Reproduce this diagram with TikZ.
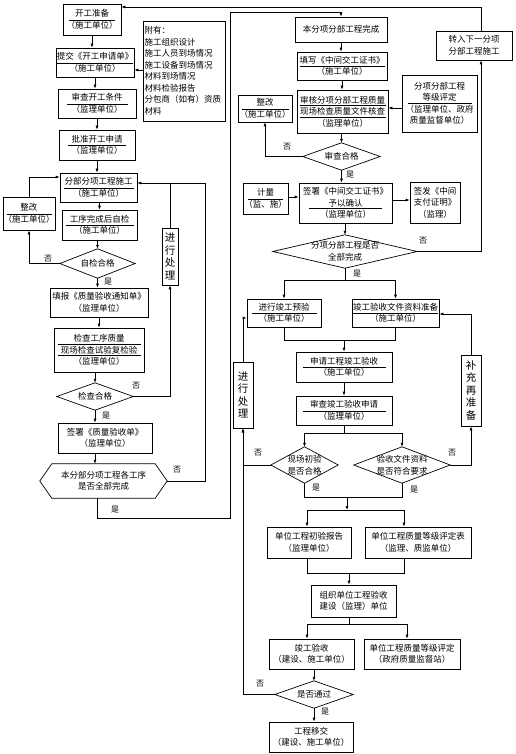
\documentclass[tikz,border=0pt]{standalone}
\usepackage{fontspec}
\setmainfont{Noto Sans CJK SC}
\usetikzlibrary{arrows.meta,calc}
\newcommand\fs{\fontsize{8.5pt}{11.5pt}\selectfont}
\newcommand\fsl{\fontsize{8pt}{9pt}\selectfont}
\newcommand\fv{\fontsize{10.5pt}{12.5pt}\selectfont}
\tikzset{
 ln/.style={line width=0.7pt},
 uln/.style={line width=0.65pt},
 arr/.style={ln,-{Latex[length=4pt,width=3pt]}},
 box/.style={draw,ln,align=center,inner sep=0.5pt,font=\fs},
 dtext/.style={align=center,inner sep=0pt,font=\fs},
 lbl/.style={font=\fsl,inner sep=0pt},
 vbox/.style={draw,ln,align=center,inner sep=0pt,font=\fv},
}
\newcommand\mybox[6]{\node[box,minimum width=#4pt,minimum height=#5pt] (#1) at (#2,#3) {#6};}
\newcommand\mydia[6]{\node[dtext,minimum width=#4pt,minimum height=#5pt] (#1) at (#2,#3) {#6};
 \draw[ln] (#1.west)--(#1.north)--(#1.east)--(#1.south)--cycle;}
\newcommand\ulin[3]{\draw[uln] ({#1-#3/2},#2) -- ({#1+#3/2},#2);}
\begin{document}
\begin{tikzpicture}[x=1pt,y=-1pt]
\fill[white] (0,0) rectangle (516,754);
\useasboundingbox (0,0) rectangle (516,754);
% ---------- left column ----------
\mybox{kg}{92}{19.5}{58}{31}{开工准备\\（施工单位）}
\mybox{tj}{95}{62.5}{78}{29}{提交《开工申请单》\\（施工单位）}
\mybox{sc}{97}{103.5}{78}{29}{审查开工条件\\（监理单位）}
\mybox{pz}{97}{145}{76}{30}{批准开工申请\\（监理单位）}
\node[box,align=left,minimum width=82pt,minimum height=100pt,text width=79pt] (fy) at (184,71)
 {附有：\\施工组织设计\\施工人员到场情况\\施工设备到场情况\\材料到场情况\\材料检验报告\\分包商（如有）资质\\材料};
\mybox{fb}{98.5}{187.5}{77}{29}{分部分项工程施工\\（施工单位）}
\mybox{zg1}{29}{213.5}{52}{33}{整改\\（施工单位）}
\mybox{zj}{99.5}{225}{75}{30}{工序完成后自检\\（施工单位）}
\mydia{d1}{97.5}{263.5}{75}{29}{自检合格}
\mybox{tb}{99}{302.5}{98}{29}{填报《质量验收通知单》\\（监理单位）}
\mybox{jc}{99}{350}{90}{44}{检查工序质量\\现场检查试验复检验\\（监理单位）}
\mydia{d2}{95}{396.5}{76}{27}{检查合格}
\mybox{qs}{105}{438}{94}{30}{签署《质量验收单》\\（监理单位）}
\node[dtext,minimum width=127pt,minimum height=34pt] (hx) at (103.5,481) {本分部分项工程各工序\\是否全部完成};
\draw[ln] (hx.west) -- ([xshift=12pt]hx.north west) -- ([xshift=-12pt]hx.north east) -- (hx.east)
 -- ([xshift=-12pt]hx.south east) -- ([xshift=12pt]hx.south west) -- cycle;
\node[vbox,minimum width=16pt,minimum height=57pt] (cl1) at (170,256.5) {进\\行\\处\\理};
% ---------- right column ----------
\mybox{bx}{341}{29.5}{92}{25}{本分项分部工程完成}
\mybox{tx}{342}{66}{90}{28}{填写《中间交工证书》\\（施工单位）}
\mybox{sh}{342.5}{111.5}{91}{43}{审核分项分部工程质量\\现场检查质量文件核查\\（监理单位）}
\mybox{dj}{439.5}{103.5}{75}{57}{分项分部工程\\等级评定\\（监理单位、政府\\质量监督单位）}
\mybox{zg2}{265}{108.5}{54}{27}{整改\\（施工单位）}
\mydia{d3}{341.5}{156.5}{77}{27}{审查合格}
\mybox{qz}{345.5}{203}{93}{40}{签署《中间交工证书》\\予以确认\\（监理单位）}
\mybox{jl}{265.5}{198.5}{45}{31}{计量\\（监、施）}
\mybox{qf}{435}{202.5}{50}{41}{签发《中间\\支付证明》\\（监理）}
\mybox{zr}{474}{45.5}{76}{29}{转入下一分项\\分部工程施工}
\mydia{d4}{345}{251.5}{144}{33}{分项分部工程是否\\全部完成}
\mybox{yy}{284}{313}{74}{28}{进行竣工预验\\（施工单位）}
\mybox{wj}{395.5}{313}{87}{28}{竣工验收文件资料准备\\（施工单位）}
\mybox{sq}{344}{367}{96}{30}{申请工程竣工验收\\（施工单位）}
\mybox{ss}{344}{410.5}{96}{29}{审查竣工验收申请\\（监理单位）}
\mydia{d5}{304.5}{465}{67}{36}{现场初验\\是否合格}
\mydia{d6}{402}{465}{96}{36}{验收文件资料\\是否符合要求}
\node[vbox,minimum width=20pt,minimum height=66pt] (cl2) at (243,395) {进\\行\\处\\理};
\node[vbox,minimum width=20pt,minimum height=71pt] (bc) at (471,390.5) {补\\充\\再\\准\\备};
\mybox{cb}{309}{542.5}{84}{31}{单位工程初验报告\\（监理单位）}
\mybox{zd}{418}{542.5}{106}{31}{单位工程质量等级评定表\\（监理、质监单位）}
\mybox{zz}{353.5}{601}{85}{32}{组织单位工程验收\\建设（监理）单位}
\mybox{jy}{311.5}{654}{85}{30}{竣工验收\\（建设、施工单位）}
\mybox{dp}{412}{654}{96}{30}{单位工程质量等级评定\\（政府质量监督站）}
\mydia{d7}{314}{694.5}{78}{27}{是否通过}
\mybox{yj}{311}{737}{84}{30}{工程移交\\（建设、施工单位）}
% ---------- underlines (paragraph borders) ----------
\ulin{92}{20}{46}
\ulin{95}{63}{76}
\ulin{97}{104}{61}
\ulin{97}{145.5}{58}
\ulin{98.5}{188}{70}
\ulin{29}{214}{45}
\ulin{99.5}{225.5}{68}
\ulin{99}{344}{83}
\ulin{99}{355.5}{83}
\ulin{342}{66.5}{85}
\ulin{342.5}{105.5}{86}
\ulin{342.5}{117}{86}
\ulin{439.5}{103}{64}
\ulin{265}{109}{47}
\ulin{345.5}{208.5}{73}
\ulin{265.5}{199}{35}
\ulin{284}{313.5}{65}
\ulin{395.5}{313.5}{85}
\ulin{344}{367.5}{83}
\ulin{344}{411}{83}
% ---------- helper coordinates ----------
\coordinate (t7) at (0,7);
\coordinate (c70) at (0,70);
\coordinate (c177) at (0,177);
\coordinate (c183) at (0,183);
\coordinate (c205) at (205,183);
\coordinate (b1) at (97,518);
\coordinate (b2) at (230,518);
\coordinate (b3) at (230,12);
\coordinate (c108) at (0,108);
\coordinate (c197) at (0,197);
\coordinate (c200) at (0,200);
\coordinate (j1) at (345,280);
\coordinate (j2) at (344,340);
\coordinate (j3) at (344,433);
\coordinate (c318) at (0,318);
\coordinate (c314) at (0,314);
\coordinate (j4) at (347,497);
\coordinate (j5) at (347,510);
\coordinate (x307) at (307,0);
\coordinate (x404) at (404,0);
\coordinate (x407) at (407,0);
\coordinate (j6) at (349,573);
\coordinate (j7) at (349,624);
% ---------- left connectors ----------
\draw[arr] (kg.south) -- (kg.south |- tj.north);
\draw[arr] (tj.south) -- (tj.south |- sc.north);
\draw[arr] (sc.south) -- (sc.south |- pz.north);
\draw[arr] (pz.south) -- (pz.south |- fb.north);
\draw[arr] (fy.west |- c70) -- (tj.east |- c70);
\draw[arr] (zj.north |- fb.south) -- (zj.north);
\draw[arr] (d1.north |- zj.south) -- (d1.north);
\draw[arr] (d1.south) -- (d1.south |- tb.north);
\draw[arr] (tb.south) -- (tb.south |- jc.north);
\draw[arr] (d2.north |- jc.south) -- (d2.north);
\draw[arr] (d2.south) -- (d2.south |- qs.north);
\draw[arr] (d2.south |- qs.south) -- (d2.south |- hx.north);
\draw[arr] (d1.west) -| (zg1.south);
\draw[arr] (zg1.north) |- (fb.west |- c177);
\draw[arr] (d2.east) -| (cl1.south);
\draw[arr] (cl1.north) |- (fb.east |- c183);
\draw[ln] (hx.east) -| (c205) -- (cl1.north |- c183);
\draw[arr] (hx.south -| b1) -- (b1) -- (b2) -- (b3) -| (bx.north);
\draw[arr] ([xshift=7pt]zr.north) |- (kg.east |- t7);
% ---------- right connectors ----------
\draw[arr] (bx.south) -- (bx.south |- tx.north);
\draw[arr] (tx.south) -- (tx.south |- sh.north);
\draw[arr] (d3.north |- sh.south) -- (d3.north);
\draw[arr] (dj.west |- c108) -- (sh.east |- c108);
\draw[arr] (d3.west) -| (zg2.south);
\draw[arr] (d3.south) -- (d3.south |- qz.north);
\draw[arr] (jl.east |- c197) -- (qz.west |- c197);
\draw[arr] (qz.east |- c200) -- (qf.west |- c200);
\draw[arr] (d4.north |- qz.south) -- (d4.north);
\draw[arr] (d4.east) -| ([xshift=7pt]zr.south);
\draw[ln] (d4.south) -- (j1);
\draw[arr] (j1) -| (yy.north);
\draw[arr] (j1) -| (wj.north);
\draw[ln] (yy.south) |- (j2);
\draw[ln] (wj.south) |- (j2);
\draw[arr] (j2) -- (j2 |- sq.north);
\draw[arr] (sq.south) -- (sq.south |- ss.north);
\draw[ln] (ss.south) -- (j3);
\draw[arr] (j3) -| (d5.north);
\draw[arr] (j3) -| (d6.north);
\draw[arr] (d5.west) -| (cl2.south);
\draw[arr] (cl2.north) |- (yy.west |- c318);
\draw[arr] (d6.east) -| (bc.south);
\draw[arr] (bc.north) |- (wj.east |- c314);
\draw[ln] (d5.south) |- (j4);
\draw[ln] (d6.south) |- (j4);
\draw[arr] (j4) -- (j5);
\draw[arr] (j5) -| (x307 |- cb.north);
\draw[arr] (j5) -| (x404 |- zd.north);
\draw[ln] (x307 |- cb.south) |- (j6);
\draw[ln] (x404 |- zd.south) |- (j6);
\draw[arr] (j6) -- (j6 |- zz.north);
\draw[ln] (j7 |- zz.south) -- (j7);
\draw[arr] (j7) -| (x307 |- jy.north);
\draw[arr] (j7) -| (x407 |- dp.north);
\draw[arr] (d7.north |- jy.south) -- (d7.north);
\draw[arr] (d7.west) -| (cl2.south);
\draw[arr] (d7.south) -- (d7.south |- yj.north);
% ---------- labels ----------
\node[lbl] (n1) at (48,259) {否};
\node[lbl] (y1) at (108,282) {是};
\node[lbl] (n2) at (136,386) {否};
\node[lbl] (y2) at (106,416) {是};
\node[lbl] (n3) at (177,470) {否};
\node[lbl] (y3) at (115,510) {是};
\node[lbl] (n4) at (287,147) {否};
\node[lbl] (y4) at (350,175) {是};
\node[lbl] (n5) at (423,241) {否};
\node[lbl] (y5) at (357,274) {是};
\node[lbl] (n6) at (258,453) {否};
\node[lbl] (n7) at (452,453) {否};
\node[lbl] (y6) at (316,488) {是};
\node[lbl] (y7) at (414,490) {是};
\node[lbl] (n8) at (260,684) {否};
\node[lbl] (y8) at (325,712) {是};
\end{tikzpicture}
\end{document}
